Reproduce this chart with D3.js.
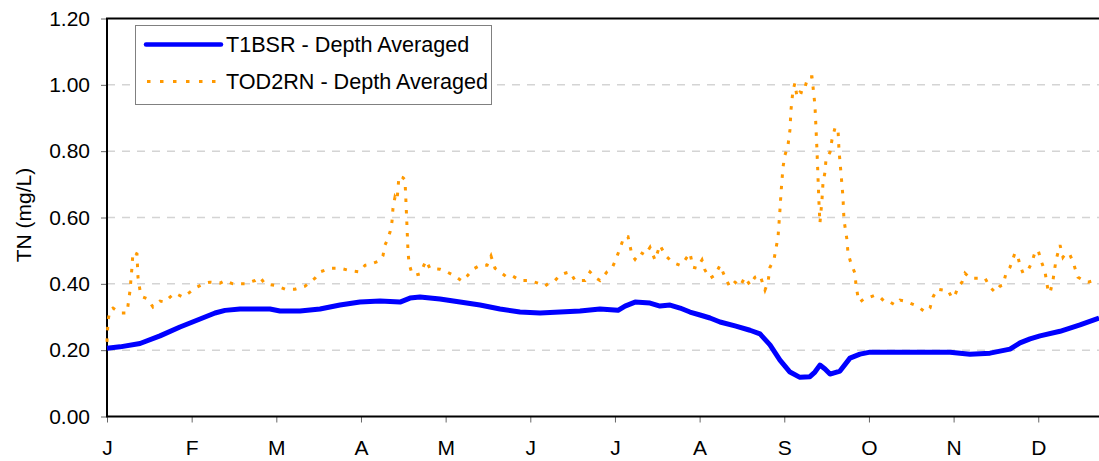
<!DOCTYPE html>
<html>
<head>
<meta charset="utf-8">
<script src="https://cdn.jsdelivr.net/npm/d3@7"></script>
<style>
  body { margin: 0; background: #fff; }
  text { font-family: Arial, "Liberation Sans", sans-serif; fill: #000; }
</style>
</head>
<body>
<div id="chart"></div>
<script>
// month labels (one tick per month, x measured in months from 1 Jan)
var monthLabels = ['J', 'F', 'M', 'A', 'M', 'J', 'J', 'A', 'S', 'O', 'N', 'D'];
var yTicks = [0, 0.2, 0.4, 0.6, 0.8, 1.0, 1.2];

// T1BSR - Depth Averaged
var blueMonth = [0.00, 0.154, 0.390, 0.626, 0.862, 1.099, 1.276, 1.394, 1.571, 1.925, 2.043, 2.280, 2.516, 2.752, 2.988,
  3.225, 3.461, 3.579, 3.697, 3.933, 4.170, 4.406, 4.642, 4.878, 5.115, 5.351, 5.587, 5.823, 6.036, 6.119, 6.237,
  6.414, 6.532, 6.651, 6.769, 6.886, 7.005, 7.123, 7.241, 7.418, 7.595, 7.713, 7.831, 7.949, 8.067, 8.185, 8.303,
  8.362, 8.421, 8.481, 8.540, 8.658, 8.776, 8.894, 9.013, 9.367, 9.958, 10.194, 10.430, 10.666, 10.784, 10.903,
  11.021, 11.257, 11.493, 11.718];
var blueTN = [0.206, 0.21, 0.22, 0.243, 0.27, 0.294, 0.312, 0.32, 0.324, 0.324, 0.318, 0.318, 0.324, 0.336, 0.345,
  0.348, 0.345, 0.357, 0.36, 0.354, 0.345, 0.336, 0.324, 0.315, 0.312, 0.315, 0.318, 0.324, 0.32, 0.333, 0.345,
  0.342, 0.333, 0.336, 0.327, 0.315, 0.306, 0.297, 0.285, 0.273, 0.26, 0.249, 0.216, 0.17, 0.134, 0.118, 0.12,
  0.134, 0.155, 0.143, 0.128, 0.137, 0.176, 0.188, 0.194, 0.194, 0.194, 0.188, 0.191, 0.203, 0.222, 0.234,
  0.243, 0.257, 0.276, 0.297];

// TOD2RN - Depth Averaged
var orangeMonth = [0.000, 0.012, 0.035, 0.071, 0.154, 0.236, 0.272, 0.295, 0.307, 0.354, 0.366, 0.390, 0.425, 0.484,
  0.543, 0.626, 0.685, 0.744, 0.803, 0.898, 0.980, 1.039, 1.158, 1.217, 1.335, 1.394, 1.488, 1.630, 1.748, 1.807,
  1.866, 1.984, 2.103, 2.221, 2.339, 2.398, 2.457, 2.516, 2.634, 2.752, 2.870, 2.988, 3.048, 3.118, 3.225, 3.260,
  3.284, 3.307, 3.343, 3.366, 3.378, 3.402, 3.426, 3.449, 3.497, 3.520, 3.532, 3.544, 3.555, 3.567, 3.603, 3.638,
  3.697, 3.733, 3.768, 3.815, 3.933, 4.016, 4.111, 4.193, 4.252, 4.323, 4.406, 4.489, 4.536, 4.583, 4.642, 4.725,
  4.796, 4.878, 4.996, 5.115, 5.174, 5.233, 5.292, 5.351, 5.410, 5.469, 5.528, 5.646, 5.705, 5.764, 5.823, 5.906,
  5.965, 6.001, 6.060, 6.107, 6.154, 6.201, 6.237, 6.296, 6.355, 6.414, 6.473, 6.532, 6.591, 6.651, 6.709, 6.769,
  6.827, 6.886, 6.922, 6.969, 7.028, 7.064, 7.123, 7.182, 7.241, 7.300, 7.359, 7.418, 7.477, 7.536, 7.595, 7.654,
  7.713, 7.772, 7.808, 7.831, 7.878, 7.902, 7.926, 7.938, 7.949, 7.961, 7.973, 7.985, 8.008, 8.044, 8.067, 8.079,
  8.091, 8.103, 8.126, 8.150, 8.185, 8.221, 8.245, 8.280, 8.327, 8.362, 8.374, 8.386, 8.398, 8.410, 8.421, 8.445,
  8.457, 8.481, 8.492, 8.540, 8.563, 8.599, 8.634, 8.646, 8.670, 8.693, 8.705, 8.741, 8.752, 8.788, 8.835, 8.847,
  8.871, 8.894, 8.953, 9.013, 9.072, 9.131, 9.190, 9.249, 9.308, 9.367, 9.426, 9.485, 9.544, 9.603, 9.662, 9.721,
  9.757, 9.804, 9.875, 9.934, 9.981, 10.017, 10.052, 10.099, 10.135, 10.194, 10.312, 10.371, 10.430, 10.489,
  10.548, 10.584, 10.619, 10.666, 10.725, 10.761, 10.784, 10.820, 10.879, 10.926, 10.962, 10.997, 11.044, 11.080,
  11.115, 11.139, 11.174, 11.210, 11.257, 11.292, 11.328, 11.375, 11.410, 11.469, 11.529, 11.588, 11.671, 11.718];
var orangeTN = [0.225, 0.29, 0.32, 0.327, 0.312, 0.312, 0.38, 0.45, 0.496, 0.49, 0.42, 0.38, 0.36, 0.354,
  0.33, 0.348, 0.345, 0.36, 0.372, 0.36, 0.375, 0.387, 0.402, 0.405, 0.402, 0.41, 0.40, 0.40, 0.41, 0.42,
  0.40, 0.395, 0.384, 0.384, 0.393, 0.405, 0.417, 0.436, 0.447, 0.447, 0.44, 0.436, 0.456, 0.46, 0.47, 0.485,
  0.517, 0.53, 0.556, 0.587, 0.628, 0.662, 0.652, 0.725, 0.72, 0.713, 0.643, 0.57, 0.50, 0.462, 0.43, 0.426,
  0.43, 0.45, 0.47, 0.446, 0.444, 0.436, 0.423, 0.408, 0.423, 0.444, 0.456, 0.456, 0.484, 0.447, 0.436, 0.42,
  0.423, 0.41, 0.41, 0.40, 0.393, 0.405, 0.41, 0.426, 0.432, 0.436, 0.41, 0.41, 0.436, 0.42, 0.41, 0.436,
  0.447, 0.468, 0.507, 0.542, 0.542, 0.487, 0.474, 0.496, 0.487, 0.51, 0.472, 0.517, 0.487, 0.472, 0.462, 0.456,
  0.472, 0.493, 0.45, 0.447, 0.472, 0.441, 0.417, 0.426, 0.456, 0.42, 0.39, 0.405, 0.393, 0.42, 0.396, 0.42,
  0.426, 0.381, 0.405, 0.45, 0.472, 0.507, 0.54, 0.583, 0.623, 0.673, 0.713, 0.752, 0.788, 0.818, 0.864, 0.924,
  0.954, 0.984, 1.005, 0.963, 0.978, 0.975, 0.993, 1.024, 1.024, 0.939, 0.873, 0.804, 0.723, 0.643, 0.583, 0.652,
  0.703, 0.737, 0.773, 0.797, 0.834, 0.87, 0.87, 0.804, 0.733, 0.663, 0.593, 0.532, 0.493, 0.462, 0.432, 0.396,
  0.36, 0.345, 0.357, 0.36, 0.366, 0.36, 0.345, 0.345, 0.336, 0.351, 0.348, 0.342, 0.336, 0.327, 0.315, 0.327,
  0.36, 0.384, 0.381, 0.381, 0.357, 0.366, 0.39, 0.405, 0.432, 0.417, 0.417, 0.417, 0.39, 0.375,
  0.393, 0.396, 0.432, 0.45, 0.493, 0.48, 0.456, 0.432, 0.441, 0.466, 0.496, 0.502, 0.462, 0.436,
  0.381, 0.372, 0.411, 0.472, 0.517, 0.48, 0.493, 0.487, 0.466, 0.42, 0.411, 0.405, 0.411, 0.411];

var svgWidth = 1099;
var svgHeight = 461;
var margin = { top: 18.5, left: 107, bottom: 44.5 };
var plotW = 12 * 84.66;
var plotH = svgHeight - margin.top - margin.bottom;

var svg = d3.select('#chart').append('svg')
  .attr('width', svgWidth)
  .attr('height', svgHeight);

var g = svg.append('g')
  .attr('transform', `translate(${margin.left}, ${margin.top})`);

var x = d3.scaleLinear().domain([0, 12]).range([0, plotW]);
var y = d3.scaleLinear().domain([0, 1.2]).range([plotH, 0]);

// dashed gridlines
g.selectAll('.grid').data(yTicks.filter(d => d > 0 && d < 1.2)).enter()
  .append('line')
  .attr('x1', 0).attr('x2', plotW)
  .attr('y1', d => y(d)).attr('y2', d => y(d))
  .attr('stroke', '#d4d4d4')
  .attr('stroke-width', 1.5)
  .attr('stroke-dasharray', '8,7');

// y axis
var yAxis = g.append('g')
  .call(d3.axisLeft(y).tickValues(yTicks).tickFormat(d3.format('.2f')).tickSize(6).tickPadding(11));
yAxis.select('.domain').remove();
yAxis.selectAll('line').attr('stroke', '#666');
yAxis.selectAll('text').style('font-size', '21px').attr('fill', '#000');

// x axis
var xAxis = g.append('g')
  .attr('transform', `translate(0, ${plotH})`)
  .call(d3.axisBottom(x).tickValues(d3.range(12)).tickFormat(d => monthLabels[d]).tickSize(6));
xAxis.select('.domain').remove();
xAxis.selectAll('line').attr('stroke', '#666');
xAxis.selectAll('text').style('font-size', '21px').attr('fill', '#000')
  .attr('dy', 0).attr('y', 38.5);

// plot frame
g.append('rect')
  .attr('x', 0).attr('y', 0)
  .attr('width', plotW).attr('height', plotH)
  .attr('fill', 'none')
  .attr('stroke', '#000')
  .attr('stroke-width', 2);

// series lines
var blueLine = d3.line().x((d, i) => x(blueMonth[i])).y(d => y(d));
var orangeLine = d3.line().x((d, i) => x(orangeMonth[i])).y(d => y(d));

g.append('path')
  .datum(orangeTN)
  .attr('d', orangeLine)
  .attr('fill', 'none')
  .attr('stroke', '#ff9900')
  .attr('stroke-width', 3)
  .attr('stroke-dasharray', '3.5,8');

g.append('path')
  .datum(blueTN)
  .attr('d', blueLine)
  .attr('fill', 'none')
  .attr('stroke', '#0000ff')
  .attr('stroke-width', 5)
  .attr('stroke-linejoin', 'round');

// y axis title
svg.append('text')
  .attr('transform', 'translate(31, 215) rotate(-90)')
  .attr('text-anchor', 'middle')
  .style('font-size', '21px')
  .text('TN (mg/L)');

// legend
var legend = svg.append('g');
legend.append('rect')
  .attr('x', 135.5).attr('y', 25.5)
  .attr('width', 356).attr('height', 79)
  .attr('fill', '#fff')
  .attr('stroke', '#808080')
  .attr('stroke-width', 1);
legend.append('line')
  .attr('x1', 146).attr('x2', 221).attr('y1', 44.5).attr('y2', 44.5)
  .attr('stroke', '#0000ff').attr('stroke-width', 4.5).attr('stroke-linecap', 'round');
legend.append('line')
  .attr('x1', 147).attr('x2', 221).attr('y1', 81.5).attr('y2', 81.5)
  .attr('stroke', '#ff9900').attr('stroke-width', 3).attr('stroke-dasharray', '3.5,9.5');
legend.append('text').attr('x', 226).attr('y', 52).style('font-size', '21.6px').text('T1BSR - Depth Averaged');
legend.append('text').attr('x', 226).attr('y', 89).style('font-size', '21.6px').text('TOD2RN - Depth Averaged');
</script>
</body>
</html>
